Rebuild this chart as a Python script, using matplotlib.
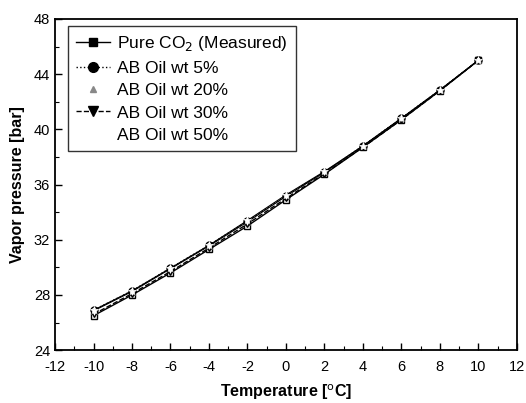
import matplotlib
matplotlib.use("Agg")
import matplotlib.pyplot as plt
from matplotlib.ticker import MultipleLocator
from matplotlib.lines import Line2D

plt.rcParams['font.family'] = ['Liberation Sans', 'DejaVu Sans']
plt.rcParams['axes.unicode_minus'] = False

temperature = [-10, -8, -6, -4, -2, 0, 2, 4, 6, 8, 10]
pure_co2 = [26.5, 28.0, 29.6, 31.3, 33.0, 34.9, 36.75, 38.7, 40.7, 42.8, 45.0]
oil_5 = [26.9, 28.3, 29.95, 31.6, 33.35, 35.2, 36.9, 38.8, 40.8, 42.85, 45.0]
oil_20 = [26.85, 28.25, 29.9, 31.55, 33.3, 35.15, 36.9, 38.8, 40.8, 42.85, 45.0]
oil_30 = [26.6, 28.1, 29.7, 31.4, 33.15, 35.0, 36.8, 38.7, 40.7, 42.8, 45.0]
oil_50 = [26.9, 28.3, 29.95, 31.6, 33.4, 35.25, 36.95, 38.8, 40.8, 42.85, 45.0]
labels = ["Pure CO$_2$ (Measured)", "AB Oil wt 5%", "AB Oil wt 20%",
          "AB Oil wt 30%", "AB Oil wt 50%"]

fig = plt.figure(figsize=(5.26, 4.03), dpi=100)
ax = fig.add_axes([0.1046, 0.131, 0.878, 0.822])

ax.plot(temperature, pure_co2, color='black', lw=1.0, marker='s', ms=5,
        mfc='white', mec='black', mew=1.0, zorder=3)
ax.plot(temperature, oil_5, color='black', lw=1.0, ls=':', marker='o', ms=5,
        mfc='white', mec='black', mew=1.0, zorder=3)
ax.plot(temperature, oil_20, color='black', lw=0.8, ls='-', marker='^', ms=5,
        mfc='white', mec='#555555', mew=0.8, zorder=3)
ax.plot(temperature, oil_30, color='black', lw=1.0, ls='--', marker='v', ms=5,
        mfc='white', mec='black', mew=1.0, zorder=3)
ax.plot(temperature, oil_50, color='black', lw=0.8, ls='-', marker='*', ms=6,
        mfc='white', mec='white', mew=0.5, zorder=4)

handles = [
    Line2D([], [], color='black', lw=1.0, marker='s', ms=6),
    Line2D([], [], color='black', lw=1.0, ls=':', marker='o', ms=7),
    Line2D([], [], color='#888888', lw=0, marker='^', ms=5),
    Line2D([], [], color='black', lw=1.0, ls='--', marker='v', ms=7),
    Line2D([], [], color='white', lw=0, marker='', ms=6),
]
leg = ax.legend(handles, labels, loc='upper left', bbox_to_anchor=(0.02, 0.988),
                frameon=True, fancybox=False, edgecolor='black', fontsize=12.5,
                handlelength=2.0, handletextpad=0.4, borderpad=0.45,
                labelspacing=0.42, borderaxespad=0.2)
leg.get_frame().set_linewidth(1.0)

ax.set_xlim(-12, 12)
ax.set_ylim(24, 48)
ax.xaxis.set_major_locator(MultipleLocator(2))
ax.xaxis.set_minor_locator(MultipleLocator(1))
ax.yaxis.set_major_locator(MultipleLocator(4))
ax.yaxis.set_minor_locator(MultipleLocator(2))
ax.tick_params(which='major', direction='in', length=5, width=1.0, labelsize=10.5)
ax.tick_params(axis='x', which='major', pad=7)
ax.tick_params(which='minor', direction='in', length=3, width=0.8)
for s in ax.spines.values():
    s.set_linewidth(1.3)

ax.set_xlabel("Temperature [$^{\\mathrm{o}}$C]", fontsize=11.5, fontweight='bold', labelpad=6)
ax.set_ylabel("Vapor pressure [bar]", fontsize=11.5, fontweight='bold', labelpad=6)

fig.savefig("out.png", dpi=100)
